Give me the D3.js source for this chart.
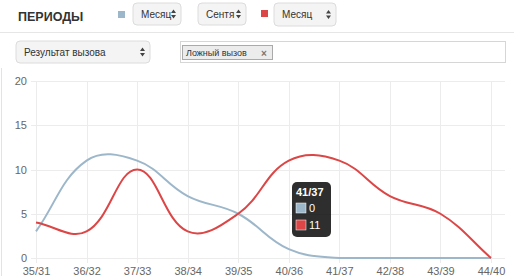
<!DOCTYPE html>
<html>
<head>
<meta charset="utf-8">
<script src="https://cdn.jsdelivr.net/npm/d3@7"></script>
<style>
  body { margin: 0; background: #fff; }
  svg { display: block; font-family: "Liberation Sans", Arial, sans-serif; }
  .ui text { fill: #333; }
  .axis text { fill: #666; font-size: 11px; }
  .axis path, .axis line { display: none; }
</style>
</head>
<body>
<div id="chart"></div>
<script>
var labels = ["35/31", "36/32", "37/33", "38/34", "39/35", "40/36", "41/37", "42/38", "43/39", "44/40"];
var blueValues = [3, 11, 11, 7, 5, 1, 0, 0, 0, 0];
var redValues = [4, 3, 10, 3, 5, 11, 11, 7, 5, 0];
var yTicks = [0, 5, 10, 15, 20];
var tipIndex = 6;

var blue = "#9db7ca";
var red = "#dc4646";

var W = 514, H = 276;
var svg = d3.select("#chart").append("svg")
  .attr("width", W)
  .attr("height", H);

// ---- controls above the chart ----
var ui = svg.append("g").attr("class", "ui");

ui.append("text")
  .attr("x", 18).attr("y", 21)
  .style("font-size", "12.5px")
  .style("font-weight", "bold")
  .text("ПЕРИОДЫ");

function selectBox(x, y, w, h, label) {
  var g = ui.append("g").attr("transform", "translate(" + x + "," + y + ")");
  g.append("rect")
    .attr("width", w).attr("height", h)
    .attr("rx", 4)
    .attr("fill", "#f4f4f4")
    .attr("stroke", "#dcdcdc");
  g.append("text")
    .attr("x", 8).attr("y", h / 2 + 3.5)
    .style("font-size", "10px")
    .text(label);
  // up/down arrows
  g.append("path")
    .attr("d", "M" + (w - 10) + "," + (h / 2 - 1) + "l2.5,-3.5l2.5,3.5z M" + (w - 10) + "," + (h / 2 + 1) + "l2.5,3.5l2.5,-3.5z")
    .attr("fill", "#444");
}

ui.append("rect").attr("x", 118).attr("y", 11).attr("width", 7).attr("height", 7).attr("fill", blue);
selectBox(133, 3, 48, 22, "Месяц");
selectBox(198, 3, 48, 22, "Сентя");
ui.append("rect").attr("x", 261).attr("y", 10).attr("width", 7).attr("height", 7).attr("fill", red);
selectBox(274, 3, 62, 23, "Месяц");

ui.append("line")
  .attr("x1", 0).attr("x2", W).attr("y1", 32.5).attr("y2", 32.5)
  .attr("stroke", "#e6e6e6");

selectBox(16, 41, 134, 22, "Результат вызова");

ui.append("rect")
  .attr("x", 180.5).attr("y", 41.5).attr("width", 325).attr("height", 21)
  .attr("fill", "#fff").attr("stroke", "#d6d6d6");
ui.append("rect")
  .attr("x", 182.5).attr("y", 45.5).attr("width", 90).attr("height", 14)
  .attr("fill", "#ececec").attr("stroke", "#aaa");
ui.append("text")
  .attr("x", 186).attr("y", 56)
  .style("font-size", "9px")
  .text("Ложный вызов");
ui.append("text")
  .attr("x", 261).attr("y", 56.5)
  .style("font-size", "10px")
  .style("font-weight", "bold")
  .style("fill", "#777")
  .text("×");

// left panel border
svg.append("line")
  .attr("x1", 1.5).attr("x2", 1.5).attr("y1", 68).attr("y2", H)
  .attr("stroke", "#e3e3e3");

// ---- chart ----
var xScale = d3.scalePoint().domain(labels).range([36, 491]);
var yScale = d3.scaleLinear().domain([0, 20]).range([258, 81]);

var grid = svg.append("g");
grid.selectAll(".hgrid")
  .data(yTicks)
  .enter().append("line")
  .attr("x1", 31).attr("x2", 505)
  .attr("y1", function(d) { return Math.round(yScale(d)) + 0.5; })
  .attr("y2", function(d) { return Math.round(yScale(d)) + 0.5; })
  .attr("stroke", "#ececec");
grid.selectAll(".vgrid")
  .data(labels)
  .enter().append("line")
  .attr("y1", yScale(20)).attr("y2", yScale(0) + 5)
  .attr("x1", function(d) { return Math.round(xScale(d)) + 0.5; })
  .attr("x2", function(d) { return Math.round(xScale(d)) + 0.5; })
  .attr("stroke", "#ececec");

svg.append("g")
  .attr("class", "axis")
  .attr("transform", "translate(27,0)")
  .call(d3.axisLeft(yScale).tickValues(yTicks).tickSize(0).tickPadding(0));

svg.append("g")
  .attr("class", "axis")
  .attr("transform", "translate(0," + (yScale(0) + 4) + ")")
  .call(d3.axisBottom(xScale).tickSize(0).tickPadding(5));

// spline like the chart lib: tension 0.4, control points kept inside the plot area
function splinePath(values) {
  var t = 0.4;
  var pts = values.map(function(v, i) { return [xScale(labels[i]), yScale(v)]; });
  var x0 = xScale.range()[0], x1 = xScale.range()[1];
  var yTop = yScale.range()[1], yBot = yScale.range()[0];
  function cap(p) {
    return [Math.max(x0, Math.min(x1, p[0])), Math.max(yTop, Math.min(yBot, p[1]))];
  }
  var cps = pts.map(function(c, i) {
    var p = pts[i - 1] || c, n = pts[i + 1] || c;
    var d01 = Math.hypot(c[0] - p[0], c[1] - p[1]);
    var d12 = Math.hypot(n[0] - c[0], n[1] - c[1]);
    var s01 = d01 / (d01 + d12) || 0, s12 = d12 / (d01 + d12) || 0;
    var fa = t * s01, fb = t * s12;
    return {
      prev: cap([c[0] - fa * (n[0] - p[0]), c[1] - fa * (n[1] - p[1])]),
      next: cap([c[0] + fb * (n[0] - p[0]), c[1] + fb * (n[1] - p[1])])
    };
  });
  var path = d3.path();
  path.moveTo(pts[0][0], pts[0][1]);
  for (var i = 1; i < pts.length; i++) {
    var a = cps[i - 1].next, b = cps[i].prev;
    path.bezierCurveTo(a[0], a[1], b[0], b[1], pts[i][0], pts[i][1]);
  }
  return path.toString();
}

svg.append("path")
  .attr("d", splinePath(blueValues))
  .attr("fill", "none")
  .attr("stroke", blue)
  .attr("stroke-width", 2);

svg.append("path")
  .attr("d", splinePath(redValues))
  .attr("fill", "none")
  .attr("stroke", red)
  .attr("stroke-width", 2);

// ---- tooltip ----
var tip = svg.append("g").attr("transform", "translate(292,182)");
tip.append("rect")
  .attr("width", 39).attr("height", 55)
  .attr("rx", 5)
  .attr("fill", "rgba(0,0,0,0.82)");
tip.append("text")
  .attr("x", 4).attr("y", 14)
  .attr("fill", "#fff")
  .style("font-size", "11px")
  .style("font-weight", "bold")
  .text(labels[tipIndex]);
var rows = [
  {c: blue, v: blueValues[tipIndex]},
  {c: red, v: redValues[tipIndex]}
];
rows.forEach(function(r, i) {
  tip.append("rect")
    .attr("x", 4).attr("y", 21 + i * 17)
    .attr("width", 10).attr("height", 10)
    .attr("fill", r.c)
    .attr("stroke", "#fff").attr("stroke-width", 0.5);
  tip.append("text")
    .attr("x", 17).attr("y", 30 + i * 17)
    .attr("fill", "#fff")
    .style("font-size", "11px")
    .text(r.v);
});
</script>
</body>
</html>
